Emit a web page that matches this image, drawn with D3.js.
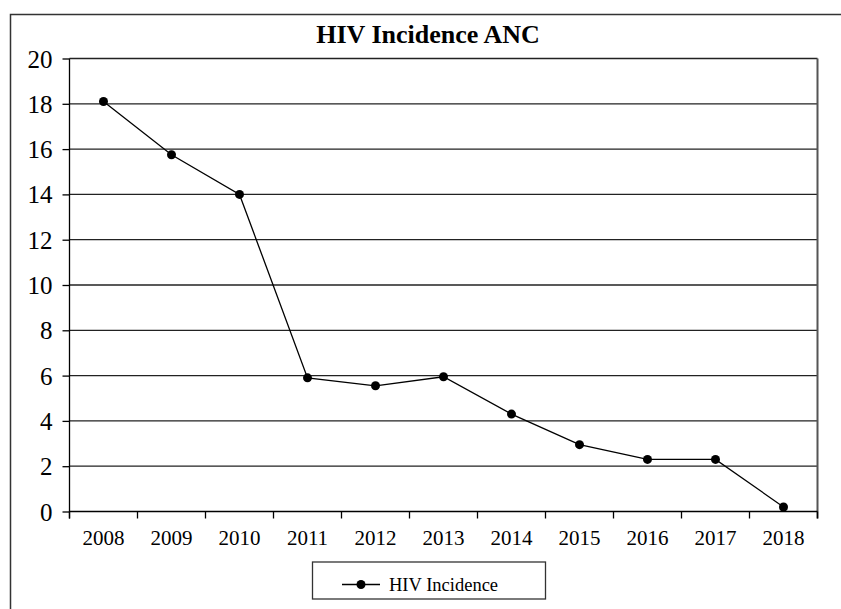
<!DOCTYPE html>
<html>
<head>
<meta charset="utf-8">
<script src="https://cdn.jsdelivr.net/npm/d3@7"></script>
<style>
  html, body { margin: 0; padding: 0; background: #fff; }
  svg { display: block; }
  svg text { font-family: "Liberation Serif", "Times New Roman", serif !important; fill: #000; }
</style>
</head>
<body>
<svg id="chart" width="841" height="609"></svg>
<script>
// Annual HIV incidence among antenatal clinic attendees
const years = ["2008", "2009", "2010", "2011", "2012", "2013", "2014", "2015", "2016", "2017", "2018"];
const incidence = [18.1, 15.75, 14.0, 5.9, 5.55, 5.95, 4.3, 2.95, 2.3, 2.3, 0.2];
const yTicks = [0, 2, 4, 6, 8, 10, 12, 14, 16, 18, 20];
const chartTitle = "HIV Incidence ANC";
const seriesName = "HIV Incidence";

const serif = "Liberation Serif, Times New Roman, serif";
const svg = d3.select("#chart").attr("font-family", serif);
const plot = { left: 69.5, right: 817.5, top: 58.5, bottom: 511.5 };

// outer chart frame (runs past the right and bottom edges)
svg.append("rect")
  .attr("x", 10.5).attr("y", 14.5)
  .attr("width", 900).attr("height", 700)
  .attr("fill", "none").attr("stroke", "#333").attr("stroke-width", 1.5);

const x = d3.scaleBand().domain(years).range([plot.left, plot.right]);
const y = d3.scaleLinear().domain([0, 20]).range([plot.bottom, plot.top]);

// horizontal gridlines
svg.append("g")
  .selectAll("line").data(yTicks.filter(d => d > 0)).join("line")
  .attr("x1", plot.left).attr("x2", plot.right)
  .attr("y1", d => y(d)).attr("y2", d => y(d))
  .attr("stroke", "#222").attr("stroke-width", 1.3);

// right edge of the plot area
svg.append("line")
  .attr("x1", plot.right).attr("x2", plot.right)
  .attr("y1", plot.top).attr("y2", plot.bottom + 7)
  .attr("stroke", "#555").attr("stroke-width", 2);

// y axis
const yAxis = d3.axisLeft(y).tickValues(yTicks).tickSize(7).tickPadding(10).tickFormat(d3.format("d"));
const gy = svg.append("g").attr("transform", `translate(${plot.left},0)`).call(yAxis)
  .attr("font-family", serif).attr("font-size", 25);
gy.select(".domain").attr("stroke", "#000").attr("stroke-width", 1.3)
  .attr("d", `M0,${plot.top}V${plot.bottom + 7}`);
gy.selectAll(".tick line").attr("stroke", "#000").attr("stroke-width", 1.3);
gy.selectAll(".tick text").attr("dy", "0.34em");

// x axis: ticks on category boundaries
const gx = svg.append("g").attr("transform", `translate(0,${plot.bottom})`);
gx.append("line")
  .attr("x1", plot.left).attr("x2", plot.right)
  .attr("stroke", "#000").attr("stroke-width", 1.3);
const bounds = years.map(d => x(d)).concat([x(years[years.length - 1]) + x.bandwidth()]);
gx.selectAll("line.tk").data(bounds).join("line").attr("class", "tk")
  .attr("x1", d => d).attr("x2", d => d).attr("y1", 0).attr("y2", 7)
  .attr("stroke", "#000").attr("stroke-width", 1.3);
gx.selectAll("text").data(years).join("text")
  .attr("x", d => x(d) + x.bandwidth() / 2)
  .attr("y", 33.5)
  .attr("text-anchor", "middle")
  .attr("font-size", 21)
  .text(d => d);

// series line and markers
const pts = years.map((yr, i) => [x(yr) + x.bandwidth() / 2, y(incidence[i])]);
svg.append("path")
  .attr("d", d3.line()(pts))
  .attr("fill", "none").attr("stroke", "#000").attr("stroke-width", 1.3);
svg.append("g").selectAll("circle").data(pts).join("circle")
  .attr("cx", d => d[0]).attr("cy", d => d[1]).attr("r", 4.5).attr("fill", "#000");

// title
svg.append("text")
  .attr("x", 428).attr("y", 43)
  .attr("text-anchor", "middle")
  .attr("font-size", 26).attr("font-weight", "bold")
  .text(chartTitle);

// legend
const lg = svg.append("g");
lg.append("rect")
  .attr("x", 312.5).attr("y", 562).attr("width", 233).attr("height", 37)
  .attr("fill", "#fff").attr("stroke", "#333").attr("stroke-width", 1.3);
lg.append("line")
  .attr("x1", 342).attr("x2", 380).attr("y1", 584.5).attr("y2", 584.5)
  .attr("stroke", "#000").attr("stroke-width", 1.3);
lg.append("circle").attr("cx", 361).attr("cy", 584.5).attr("r", 4.5).attr("fill", "#000");
lg.append("text")
  .attr("x", 389).attr("y", 590.5)
  .attr("font-size", 18.5)
  .text(seriesName);
</script>
</body>
</html>
